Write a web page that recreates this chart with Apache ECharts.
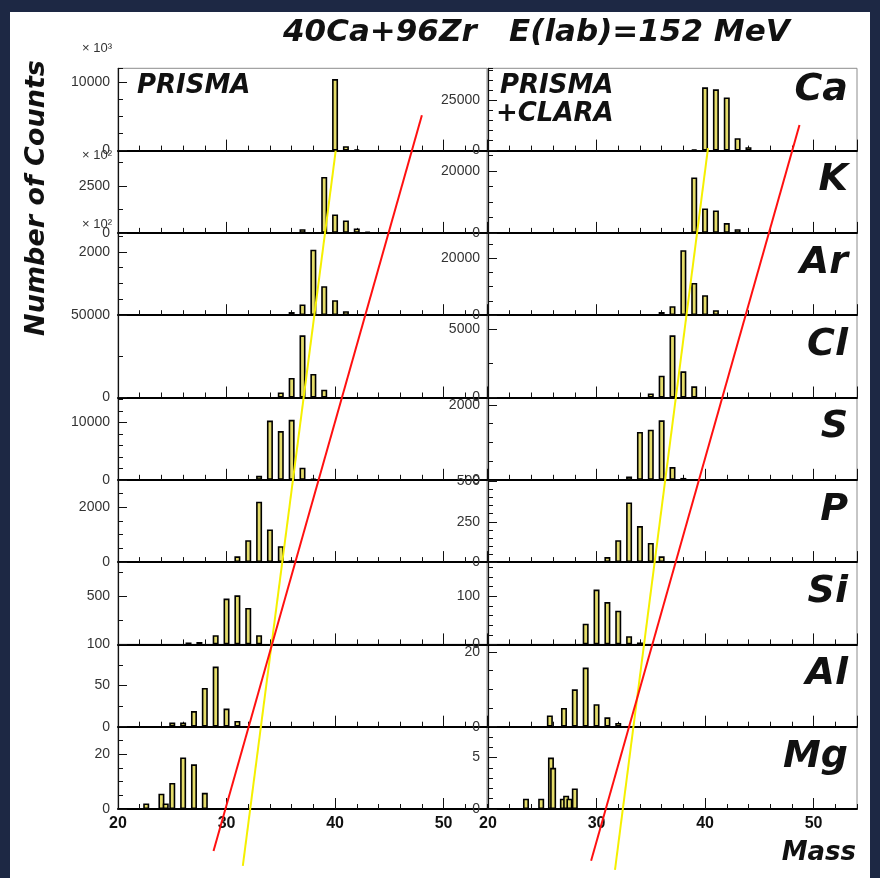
<!DOCTYPE html>
<html><head><meta charset="utf-8">
<script src="https://cdn.jsdelivr.net/npm/echarts@6/dist/echarts.min.js"></script>
<style>
html,body{margin:0;padding:0;background:#1d2844;width:880px;height:878px;overflow:hidden}
#frame{position:absolute;left:10px;top:12px;width:860px;height:866px;background:#fff}
#chart{position:absolute;left:0;top:0;width:880px;height:878px}
</style></head><body>
<div id="frame"></div>
<div id="chart"></div>
<script>
// ---------------- data ----------------
const elements = ['Ca','K','Ar','Cl','S','P','Si','Al','Mg'];

// PRISMA peaks: [mass, counts]
const prismaCa = [[40,10500],[41,640],[42,150]];
const prismaK  = [[37,200],[39,2970],[40,980],[41,665],[42,240],[43,60]];
const prismaAr = [[36,100],[37,340],[38,2070],[39,915],[40,475],[41,125]];
const prismaCl = [[35,3060],[36,11870],[37,37760],[38,14320],[39,4700]];
const prismaS  = [[33,690],[34,10340],[35,8500],[36,10460],[37,2120],[38,150]];
const prismaP  = [[31,210],[32,800],[33,2200],[34,1190],[35,580],[36,60]];
const prismaSi = [[26.5,20],[27.5,25],[29,96],[30,476],[31,510],[32,379],[33,96]];
const prismaAl = [[25,5],[26,5],[27,19],[28,47],[29,73],[30,22],[31,7]];
const prismaMg = [[22.6,2],[24,5.6],[24.4,2],[25,9.5],[26,18.8],[27,16.3],[28,5.9]];

// PRISMA+CLARA peaks: [mass, counts]
const claraCa = [[39,500],[40,31600],[41,30600],[42,26500],[43,6200],[44,1700]];
const claraK  = [[39,17900],[40,7900],[41,7240],[42,3190],[43,1180]];
const claraAr = [[36,1160],[37,3160],[38,22800],[39,11330],[40,7020],[41,1750]];
const claraCl = [[35,300],[36,1610],[37,4580],[38,1930],[39,820]];
const claraS  = [[33,90],[34,1280],[35,1340],[36,1590],[37,340],[38,50]];
const claraP  = [[31,31],[32,136],[33,370],[34,223],[35,119],[36,36]];
const claraSi = [[29,43],[30,114],[31,88],[32,70],[33,17],[34,4]];
const claraAl = [[25.7,3],[27,5],[28,10],[29,15.8],[30,6],[31,2.5],[32,1]];
const claraMg = [[23.5,1],[24.9,1],[25.8,5],[26,4],[26.9,1],[27.2,1.3],[27.5,1],[28,2]];

// y-axis scales (axis max, labelled step, minor step)
const prismaMax   = [12090, 4370, 2600, 50000, 14360, 3000, 855, 100, 30];
const prismaStep  = [10000, 2500, 2000, 50000, 10000, 2000, 500, 50, 20];
const prismaMinor = [2500, 1250, 500, 25000, 2000, 500, 250, 25, 5];
const claraMax    = [41070, 26600, 28900, 6060, 2200, 510, 171, 22, 8];
const claraStep   = [25000, 20000, 20000, 5000, 2000, 250, 100, 20, 5];
const claraMinor  = [5000, 5000, 5000, 2500, 500, 50, 20, 5, 1];

// systematics lines: [mass, row position (0 = bottom of Mg panel, 9 = top of Ca panel)]
const redLinePrisma    = [[48.0, 8.43], [28.8, -0.51]];
const yellowLinePrisma = [[40.06, 8.0], [31.5, -0.69]];
const redLineClara     = [[48.7, 8.31], [29.5, -0.63]];
const yellowLineClara  = [[40.27, 8.03], [31.7, -0.74]];

// ---------------- layout ----------------
const prismaPeaks = [prismaCa, prismaK, prismaAr, prismaCl, prismaS, prismaP, prismaSi, prismaAl, prismaMg];
const claraPeaks  = [claraCa, claraK, claraAr, claraCl, claraS, claraP, claraSi, claraAl, claraMg];
const colLeft = [118, 488];
const colW = 369;
const top0 = 68.3;
const rowH = 82.3;
const hideMinLabel = [[2, 6], []]; // panels whose 0 label is covered by the panel below's top label

const grid = [], xAxis = [], yAxis = [], series = [];
const tickFont = 'Liberation Sans';
const plain = function (v) { return String(v); };

for (let c = 0; c < 2; c++) {
  for (let r = 0; r < 9; r++) {
    const g = grid.length;
    const yMax = c === 0 ? prismaMax[r] : claraMax[r];
    const step = c === 0 ? prismaStep[r] : claraStep[r];
    const minor = c === 0 ? prismaMinor[r] : claraMinor[r];
    grid.push({
      left: colLeft[c], top: top0 + r * rowH, width: colW, height: rowH,
      show: true, borderColor: '#8c8c8c', borderWidth: 1, backgroundColor: 'transparent',
      containLabel: false, outerBoundsMode: 'none'
    });
    xAxis.push({
      gridIndex: g, type: 'value', position: 'bottom', min: 20, max: 54, interval: 2,
      axisLine: { show: false, onZero: false },
      axisTick: { show: true, inside: true, length: 5, lineStyle: { color: '#111', width: 1 } },
      axisLabel: { show: false }, splitLine: { show: false }
    });
    xAxis.push({
      gridIndex: g, type: 'value', position: 'bottom', min: 20, max: 54, interval: 10,
      axisLine: { show: true, onZero: false, lineStyle: { color: '#000', width: 2 } },
      axisTick: { show: true, inside: true, length: 11, lineStyle: { color: '#111', width: 1 } },
      axisLabel: {
        show: r === 8, margin: 7, fontSize: 16, fontWeight: 'bold', color: '#111',
        fontFamily: tickFont, showMaxLabel: false, formatter: plain
      },
      splitLine: { show: false }
    });
    yAxis.push({
      gridIndex: g, type: 'value', position: 'left', min: 0, max: yMax, interval: step,
      axisLine: { show: true, onZero: false, lineStyle: { color: '#111', width: 1.2 } },
      axisTick: { show: true, inside: true, length: 9, lineStyle: { color: '#111', width: 1 } },
      axisLabel: {
        show: true, margin: 8, fontSize: 14, color: '#333', fontFamily: tickFont, formatter: plain,
        showMaxLabel: yMax % step === 0, showMinLabel: hideMinLabel[c].indexOf(r) < 0
      },
      splitLine: { show: false }
    });
    yAxis.push({
      gridIndex: g, type: 'value', position: 'left', min: 0, max: yMax, interval: minor,
      axisLine: { show: false, onZero: false },
      axisTick: { show: true, inside: true, length: 5, lineStyle: { color: '#111', width: 1 } },
      axisLabel: { show: false }, splitLine: { show: false }
    });
    series.push({
      type: 'bar', xAxisIndex: 2 * g + 1, yAxisIndex: 2 * g,
      data: (c === 0 ? prismaPeaks : claraPeaks)[r],
      barWidth: 6, barGap: '-100%',
      itemStyle: { color: '#e4dc6a', borderColor: '#000', borderWidth: 1.6 },
      silent: true, z: 3
    });
  }
}

const lineSets = [[redLinePrisma, yellowLinePrisma], [redLineClara, yellowLineClara]];
for (let c = 0; c < 2; c++) {
  const g = grid.length;
  grid.push({ left: colLeft[c], top: top0, width: colW, height: rowH * 9, show: false,
    containLabel: false, outerBoundsMode: 'none' });
  xAxis.push({ gridIndex: g, type: 'value', min: 20, max: 54, show: false });
  yAxis.push({ gridIndex: g, type: 'value', min: 0, max: 9, show: false });
  const xi = xAxis.length - 1, yi = yAxis.length - 1;
  series.push({ type: 'line', xAxisIndex: xi, yAxisIndex: yi, data: lineSets[c][1], clip: false,
    symbol: 'none', silent: true, z: 8, lineStyle: { color: '#f5f000', width: 2 } });
  series.push({ type: 'line', xAxisIndex: xi, yAxisIndex: yi, data: lineSets[c][0], clip: false,
    symbol: 'none', silent: true, z: 9, lineStyle: { color: '#ff1010', width: 2 } });
}

// ---------------- texts ----------------
const graphic = [
  { type: 'text', x: 283, y: 33, style: { text: '40Ca+96Zr   E(lab)=152 MeV',
      font: 'italic bold 31px "DejaVu Sans"', fill: '#111', verticalAlign: 'middle' } },
  { type: 'text', x: 37, y: 198, rotation: Math.PI / 2, style: { text: 'Number of Counts',
      font: 'italic bold 27px "DejaVu Sans"', fill: '#111', align: 'center', verticalAlign: 'middle' } },
  { type: 'text', x: 856, y: 853, style: { text: 'Mass', font: 'italic bold 26px "DejaVu Sans"',
      fill: '#111', align: 'right', verticalAlign: 'middle' } },
  { type: 'text', x: 137, y: 86, style: { text: 'PRISMA', font: 'italic bold 26px "DejaVu Sans"',
      fill: '#111', verticalAlign: 'middle' } },
  { type: 'text', x: 500, y: 86, style: { text: 'PRISMA', font: 'italic bold 26px "DejaVu Sans"',
      fill: '#111', verticalAlign: 'middle' } },
  { type: 'text', x: 496, y: 114, style: { text: '+CLARA', font: 'italic bold 26px "DejaVu Sans"',
      fill: '#111', verticalAlign: 'middle' } },
  { type: 'text', x: 82, y: 48, style: { text: '× 10³', font: '13px "Liberation Sans"',
      fill: '#333', verticalAlign: 'middle' } },
  { type: 'text', x: 82, y: 155, style: { text: '× 10²', font: '13px "Liberation Sans"',
      fill: '#333', verticalAlign: 'middle' } },
  { type: 'text', x: 82, y: 224, style: { text: '× 10²', font: '13px "Liberation Sans"',
      fill: '#333', verticalAlign: 'middle' } }
];
elements.forEach(function (el, r) {
  graphic.push({ type: 'text', x: 848, y: top0 + r * rowH + (r === 0 ? 22 : 30), style: {
    text: el, font: 'italic bold 38px "DejaVu Sans"', fill: '#111', align: 'right', verticalAlign: 'middle' } });
});

const chart = echarts.init(document.getElementById('chart'), null, { renderer: 'canvas' });
chart.setOption({
  animation: false,
  backgroundColor: 'transparent',
  grid: grid, xAxis: xAxis, yAxis: yAxis, series: series, graphic: graphic
});
</script>
</body></html>
